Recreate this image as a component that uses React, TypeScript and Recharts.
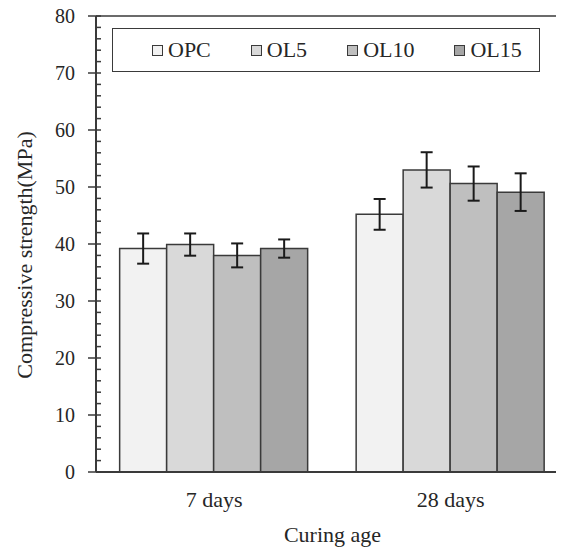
import React from "react"
import { BarChart, Bar, XAxis, YAxis, ErrorBar, Legend, ReferenceLine } from "recharts"

const CATEGORIES = ["7 days", "28 days"]

const OPC = [39.2, 45.2]
const OL5 = [39.9, 53.0]
const OL10 = [38.0, 50.6]
const OL15 = [39.2, 49.1]

const OPC_ERR = [2.65, 2.7]
const OL5_ERR = [1.95, 3.1]
const OL10_ERR = [2.1, 3.0]
const OL15_ERR = [1.6, 3.3]

const Y_MAJOR = [0, 10, 20, 30, 40, 50, 60, 70, 80]
const Y_MINOR_STEP = 2

const SERIES = [
    { key: "opc", name: "OPC", values: OPC, errors: OPC_ERR, fill: "#f2f2f2" },
    { key: "ol5", name: "OL5", values: OL5, errors: OL5_ERR, fill: "#d9d9d9" },
    { key: "ol10", name: "OL10", values: OL10, errors: OL10_ERR, fill: "#bfbfbf" },
    { key: "ol15", name: "OL15", values: OL15, errors: OL15_ERR, fill: "#a6a6a6" },
]

const data = CATEGORIES.map((age, i) => {
    const row: any = { age }
    SERIES.forEach((s) => {
        row[s.key] = s.values[i]
        row[s.key + "Err"] = s.errors[i]
    })
    return row
})

const yTicks = Array.from(
    { length: Y_MAJOR[Y_MAJOR.length - 1] / Y_MINOR_STEP + 1 },
    (_, i) => i * Y_MINOR_STEP
)

const FONT = "'Liberation Serif', 'Times New Roman', serif"
const INK = "#262626"
const LINE = "#3a3a3a"

const YTick = ({ x, y, payload }: any) => {
    const major = Y_MAJOR.includes(payload.value)
    return (
        <g>
            {major ? (
                <line x1={x - 8} x2={x + 5} y1={y} y2={y} stroke={LINE} strokeWidth={1.5} />
            ) : (
                <line x1={x} x2={x + 5} y1={y} y2={y} stroke={LINE} strokeWidth={1.5} />
            )}
            {major && (
                <text x={x - 21} y={y} dy="0.35em" textAnchor="end" fontSize={20} fontFamily={FONT} fill={INK}>
                    {payload.value}
                </text>
            )}
        </g>
    )
}

const renderYLabel = ({ viewBox }: any) => {
    const cx = viewBox.x + 32
    const cy = viewBox.y + viewBox.height / 2 + 11
    return (
        <text
            x={cx}
            y={cy}
            transform={`rotate(-90, ${cx}, ${cy})`}
            textAnchor="middle"
            fontSize={22}
            fontFamily={FONT}
            fill={INK}
        >
            Compressive strength(MPa)
        </text>
    )
}

const renderXLabel = ({ viewBox }: any) => (
    <text
        x={viewBox.x + viewBox.width / 2}
        y={viewBox.y + 69.5}
        textAnchor="middle"
        fontSize={22}
        fontFamily={FONT}
        fill={INK}
    >
        Curing age
    </text>
)

const renderLegend = () => (
    <div
        style={{
            boxSizing: "border-box",
            width: 428,
            height: 44,
            border: `1.5px solid ${LINE}`,
            display: "flex",
            alignItems: "center",
            paddingLeft: 39,
            gap: 40,
            fontFamily: FONT,
            fontSize: 22,
            color: INK,
            background: "#fff",
        }}
    >
        {SERIES.map((s) => (
            <div key={s.key} style={{ display: "flex", alignItems: "center" }}>
                <span
                    style={{
                        display: "inline-block",
                        width: 9,
                        height: 9,
                        border: `1.5px solid ${LINE}`,
                        background: s.fill,
                        marginRight: 5,
                    }}
                />
                <span style={{ lineHeight: 1 }}>{s.name}</span>
            </div>
        ))}
    </div>
)

export default function App() {
    return (
        <div style={{ position: "relative", top: -8, left: -8, width: 564, height: 552, overflow: "hidden" }}>
            <BarChart
                width={579}
                height={552}
                data={data}
                margin={{ top: 16, right: 10, left: 0, bottom: 0 }}
                barCategoryGap="10%"
                barGap={0}
            >
                <XAxis
                    dataKey="age"
                    height={80}
                    tickLine={false}
                    tickSize={0}
                    tickMargin={19}
                    axisLine={{ stroke: LINE, strokeWidth: 2 }}
                    tick={{ fontSize: 22, fontFamily: FONT, fill: INK }}
                    label={{ content: renderXLabel }}
                />
                <YAxis
                    width={96}
                    domain={[0, 80]}
                    ticks={yTicks}
                    interval={0}
                    tickLine={false}
                    tickSize={0}
                    tickMargin={0}
                    axisLine={{ stroke: LINE, strokeWidth: 2 }}
                    tick={<YTick />}
                    label={{ content: renderYLabel }}
                />
                <ReferenceLine y={80} stroke={LINE} strokeWidth={1.5} />
                <Legend
                    layout="horizontal"
                    verticalAlign="middle"
                    align="center"
                    wrapperStyle={{ left: 112, top: 28, width: 428, height: 44 }}
                    content={renderLegend}
                />
                {SERIES.map((s) => (
                    <Bar
                        key={s.key}
                        dataKey={s.key}
                        name={s.name}
                        fill={s.fill}
                        stroke={LINE}
                        strokeWidth={1.5}
                        isAnimationActive={false}
                    >
                        <ErrorBar dataKey={s.key + "Err"} width={6} stroke="#1a1a1a" strokeWidth={2} direction="y" />
                    </Bar>
                ))}
            </BarChart>
        </div>
    )
}
